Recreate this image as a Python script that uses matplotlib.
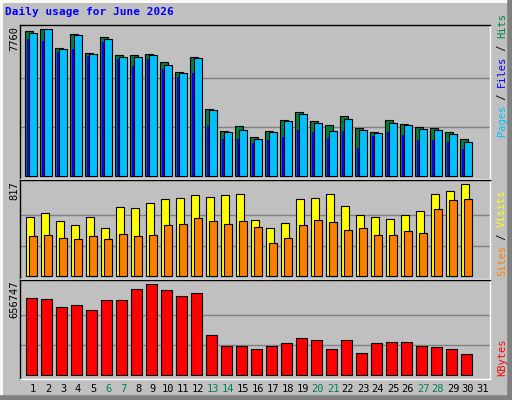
import matplotlib
matplotlib.use("Agg")
import matplotlib.pyplot as plt
import numpy as np

days = list(range(1, 32))
hits = [7654, 7760, 6755, 7495, 6490, 7337, 6384, 6384, 6437, 6014, 5485, 6278, 3527, 2363, 2628,
        2046, 2363, 2963, 3368, 2892, 2681, 3157, 2522, 2310, 2963, 2734, 2575, 2522, 2310, 1940]
files = [7231, 7125, 6543, 6702, 6331, 7072, 6173, 5802, 6173, 5644, 5220, 5432, 2628, 1940, 1940,
         1728, 1887, 2046, 2416, 2310, 1993, 2363, 1464, 2099, 2310, 2152, 1887, 1887, 1781, 1411]
pages = [7548, 7760, 6702, 7442, 6437, 7231, 6278, 6278, 6384, 5855, 5432, 6225, 3474, 2310, 2416,
         1940, 2310, 2892, 3263, 2787, 2363, 2998, 2416, 2257, 2787, 2681, 2469, 2416, 2205, 1781]
visits = [524, 559, 488, 453, 524, 426, 613, 604, 648, 684, 693, 719, 701, 719, 728,
          497, 426, 471, 684, 693, 728, 622, 542, 524, 506, 542, 577, 728, 755, 817]
sites = [355, 364, 337, 329, 355, 329, 373, 355, 364, 453, 462, 515, 488, 462, 488,
         435, 293, 337, 453, 497, 480, 408, 426, 364, 364, 400, 382, 595, 675, 684]
kbytes = [555717, 548500, 490763, 505197, 469112, 541283, 541283, 620671, 656747, 613454, 570152,
          591803, 288684, 209296, 209296, 187645, 209296, 230947, 267033, 252599, 187645, 252599,
          158776, 230947, 238164, 238164, 209296, 202079, 187645, 151559]
weekend = [6, 7, 13, 14, 20, 21, 27, 28]

BG = '#c0c0c0'; MONO = 'DejaVu Sans Mono'
W, H = 512, 400
fig = plt.figure(figsize=(W / 100, H / 100), dpi=100, facecolor=BG)

def px_axes(top, bottom, left=20, right=490):
    return fig.add_axes([left / W, 1 - bottom / H, (right - left) / W, (bottom - top) / H])

# outer bevel
bev = fig.add_axes([0, 0, 1, 1]); bev.set_xlim(0, W); bev.set_ylim(H, 0); bev.axis('off')
bev.plot([1, W - 1], [1, 1], color='white', lw=2); bev.plot([1, 1], [1, H - 1], color='white', lw=2)
bev.plot([1, W - 1], [H - 2, H - 2], color='#808080', lw=4); bev.plot([W - 2, W - 2], [1, H - 1], color='#808080', lw=4)
bev.text(5, 15, "Daily usage for June 2026", color='#0000ff', fontsize=8, fontweight='bold', family=MONO)

x = np.array(days[:len(hits)])
xl = ((20 - 18) / 15, (490 - 18) / 15)

def setup(ax, lo, hi, top):
    ax.set_facecolor(BG); ax.set_xlim(*xl); ax.set_ylim(lo, hi)
    ax.set_xticks([]); ax.set_yticks([])
    for s in ax.spines.values():
        s.set_color('black'); s.set_linewidth(1)
    ax.spines['right'].set_color('white'); ax.spines['bottom'].set_color('white')
    for f in (1 / 3, 2 / 3):
        ax.axhline(top * f, color='#808080', lw=1, zorder=0)

ek = dict(edgecolor='black', linewidth=0.8, align='edge')
ax1 = px_axes(25, 179); setup(ax1, -159, 7988, 7760)
ax1.bar(x - 0.53, hits, 0.5, color='#008040', **ek)
ax1.bar(x - 0.4, files, 0.2, color='#0000ff', edgecolor='none', align='edge')
ax1.bar(x - 0.27, pages, 0.52, color='#00c0ff', **ek)

ax2 = px_axes(180, 279); setup(ax2, -24, 855, 817)
ax2.bar(x - 0.5, visits, 0.55, color='#ffff00', **ek)
ax2.bar(x - 0.27, sites, 0.52, color='#ff8000', **ek)

ax3 = px_axes(280, 379); setup(ax3, -26700, 687780, 656747)
ax3.bar(x - 0.45, kbytes, 0.7, color='#ff0000', **ek)

for d in days:
    bev.text(18 + 15 * d, 389, str(d), ha='center', va='center', fontsize=7.5, family=MONO,
             color='#00805c' if d in weekend else 'black')

for yy, lab in [(26, "7760"), (181, "817"), (281, "656747")]:
    bev.text(14, yy, lab, rotation=90, ha='center', va='top', fontsize=7.5, family=MONO)

def side(yb, parts):
    y = yb
    for txt, c in parts:
        t = bev.text(502, y, txt, rotation=90, ha='center', va='bottom', fontsize=7.5, family=MONO, color=c)
        y -= len(txt) * 6.1

side(136, [("Pages", '#00c0ff'), (" / ", 'black'), ("Files", '#0000ff'), (" / ", 'black'), ("Hits", '#008040')])
side(276, [("Sites", '#ff8000'), (" / ", 'black'), ("Visits", '#ffff00')])
side(376, [("KBytes", '#ff0000')])

fig.savefig("out.png", dpi=100, facecolor=BG)
